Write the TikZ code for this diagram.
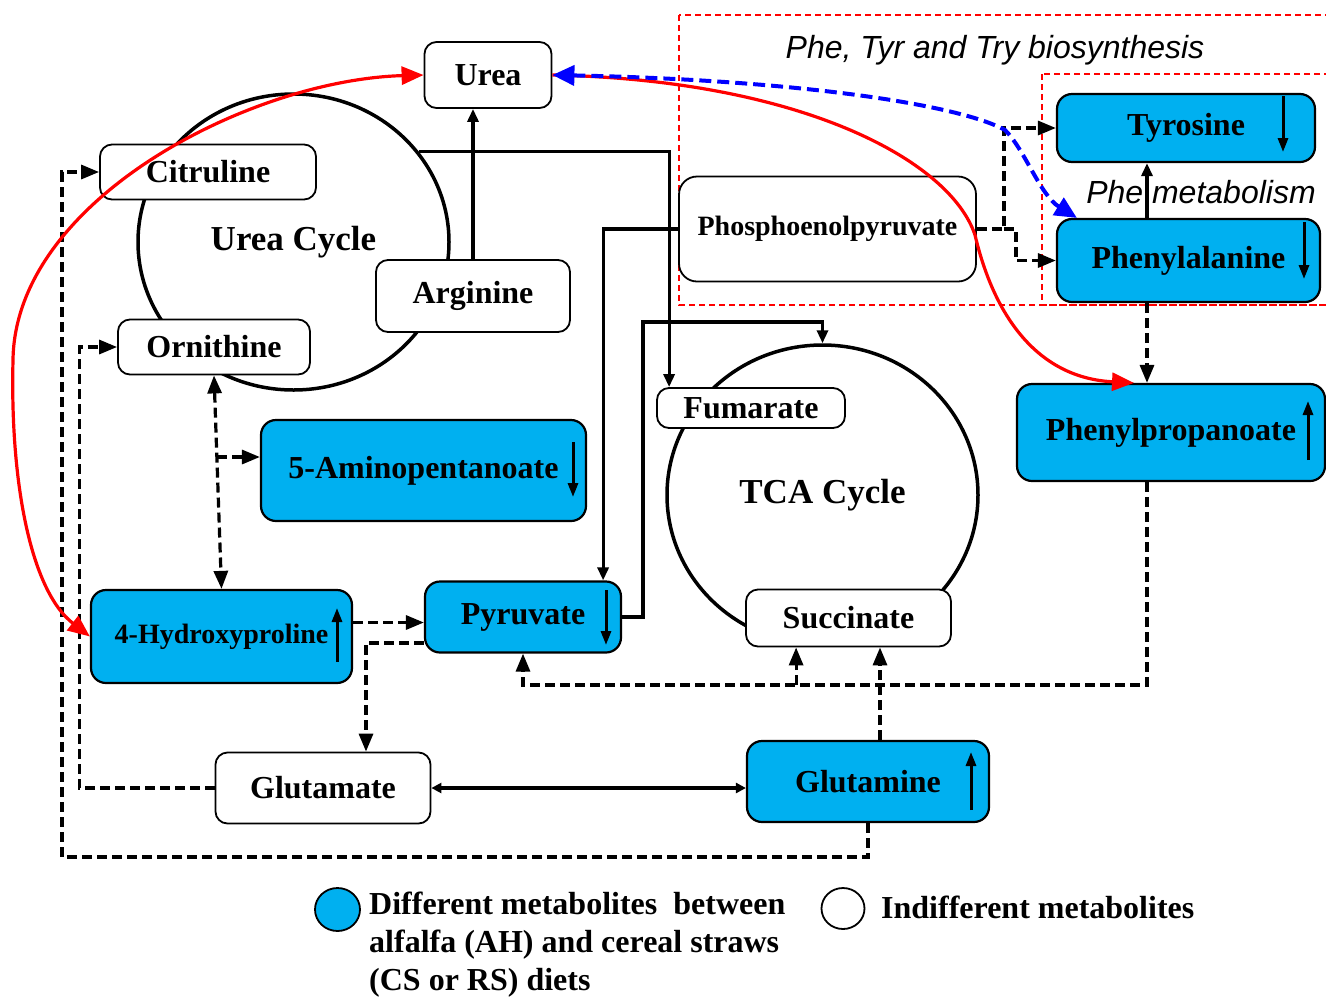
\documentclass[tikz,border=0pt]{standalone}
\usepackage{fontspec}
\setmainfont{Liberation Serif}
\newfontfamily\pathfont{Liberation Sans}
\usetikzlibrary{arrows.meta,shapes.geometric}

\definecolor{diffblue}{RGB}{0,176,240}

\tikzset{
	metab/.style={draw, line width=1.8pt, rounded corners=12pt, fill=white, inner sep=0pt, font=\fontsize{32}{38}\selectfont\bfseries},
	diffmetab/.style={metab, fill=diffblue, line width=2.2pt, rounded corners=15pt},
	cyclering/.style={ellipse, draw, line width=3.5pt, inner sep=0pt, font=\fontsize{35}{42}\selectfont\bfseries},
	pathlabel/.style={font=\pathfont\itshape\fontsize{32}{38}\selectfont},
	link/.style={line width=3.2pt, >={Triangle[length=13pt,width=11pt]}, ->},
	dlink/.style={line width=3.2pt, dash pattern=on 10pt off 5pt, >={Triangle[length=18pt,width=14pt]}, ->},
	trend/.style={line width=3pt, -{Triangle[length=14pt,width=10pt]}},
	pathbox/.style={red, line width=1.5pt, dash pattern=on 6pt off 4pt},
	redcurve/.style={red, line width=3.2pt, >={Triangle[length=22pt,width=18pt]}},
	bluecurve/.style={blue, line width=4pt, dash pattern=on 12pt off 6pt, >={Triangle[length=22pt,width=20pt]}},
}

\begin{document}
\begin{tikzpicture}[x=1pt, y=-1pt]
	\useasboundingbox (0,0) rectangle (1326,997);
	\draw[pathbox] (679,15) rectangle (1340,305);
	\draw[pathbox] (1042,74) rectangle (1340,305);
	\node[pathlabel] (biosyn) at (995,50) {Phe, Tyr and Try biosynthesis};
	\node[pathlabel] (phemet) at (1201,192) {Phe metabolism};

	\node[cyclering, minimum width=311pt, minimum height=296pt] (ucyc) at (293.5,242) {Urea Cycle};
	\node[cyclering, minimum width=311pt, minimum height=300pt] (tca) at (822.5,495) {TCA Cycle};

	\node[metab, minimum width=127pt, minimum height=66pt] (urea) at (488,75) {Urea};
	\node[metab, minimum width=216pt, minimum height=55pt] (cit) at (208,172) {Citruline};
	\node[metab, minimum width=194pt, minimum height=72pt] (arg) at (473,296) {Arginine};
	\node[metab, minimum width=192pt, minimum height=55pt] (orn) at (214,347) {Ornithine};
	\node[diffmetab, minimum width=325pt, minimum height=101pt] (amino) at (423.5,470.5) {5-Aminopentanoate};
	\node[diffmetab, minimum width=261pt, minimum height=93pt, font=\fontsize{28}{34}\selectfont\bfseries] (hyp) at (221.5,636.5) {4-Hydroxyproline};
	\node[diffmetab, minimum width=196pt, minimum height=71pt] (pyr) at (523,617) {Pyruvate};
	\node[metab, minimum width=215pt, minimum height=71pt] (glu) at (323,788) {Glutamate};
	\node[diffmetab, minimum width=242pt, minimum height=81pt] (gln) at (868,781.5) {Glutamine};
	\node[metab, minimum width=188pt, minimum height=40pt] (fum) at (751,408) {Fumarate};
	\node[metab, minimum width=205pt, minimum height=57pt] (succ) at (848.5,618) {Succinate};
	\node[metab, minimum width=297pt, minimum height=105pt, rounded corners=18pt, font=\fontsize{28}{34}\selectfont\bfseries] (pep) at (827.5,229) {Phosphoenolpyruvate};
	\node[diffmetab, minimum width=258pt, minimum height=68pt] (tyr) at (1186,128) {Tyrosine};
	\node[diffmetab, minimum width=263pt, minimum height=83pt] (phe) at (1188.5,260.5) {Phenylalanine};
	\node[diffmetab, minimum width=308pt, minimum height=97pt] (pp) at (1171,432.5) {Phenylpropanoate};

	\draw[trend] (573,442) -- (573,497);
	\draw[trend] (337,662) -- (337,608);
	\draw[trend] (606,590) -- (606,645);
	\draw[trend] (971,810) -- (971,752);
	\draw[trend] (1283,96) -- (1283,152);
	\draw[trend] (1304,222) -- (1304,279);
	\draw[trend] (1308,460) -- (1308,401);

	\draw[link] (arg.north) -- (arg.north |- urea.south);
	\draw[link] (ucyc.36) -| ([xshift=13pt]fum.north west);
	\draw[link] (pep.west) -| ([xshift=-19pt]pyr.north east);
	\coordinate (tcabend) at (643,322);
	\draw[link] (pyr.east) -| (tcabend) -| (tca.north);
	\draw[dlink] (pep.east) -- ++(27,0) coordinate (pepsplit) |- (tyr.west);
	\draw[dlink] (pepsplit) -- ++(12,0) |- (phe.west);

	\coordinate (phecol) at (1147,0);
	\draw[link] (phecol |- phe.north) -- (phecol |- tyr.south);
	\draw[dlink] (phecol |- phe.south) -- (phecol |- pp.north);
	\coordinate (lowrow) at (0,685);
	\draw[dlink] (phecol |- pp.south) -- (phecol |- lowrow) -| (pyr.south);
	\coordinate (succin) at ([xshift=51pt]succ.south west);
	\draw[dlink] (succin |- lowrow) -- (succin);
	\coordinate (glnup) at ([xshift=12pt]gln.north);
	\draw[dlink] (glnup) -- (glnup |- succ.south);

	\coordinate (loopout) at (62,857);
	\draw[dlink] (gln.south) |- (loopout) |- (cit.west);
	\draw[dlink] (glu.west) -| ([xshift=-38pt]orn.west) -- (orn.west);
	\draw[dlink, <->] (orn.south) -- (hyp.north);
	\coordinate (ornbranch) at (217,457);
	\draw[dlink] (ornbranch) -- (ornbranch -| amino.west);
	\coordinate (hypout) at ([yshift=14pt]hyp.east);
	\draw[dlink] (hypout) -- (hypout -| pyr.west);
	\coordinate (pyrout) at ([yshift=-26pt]pyr.west);
	\draw[dlink] (pyrout) -| ([xshift=43pt]glu.north);
	\draw[line width=3.2pt, >={Triangle[length=10pt,width=10pt]}, <->] (glu.east) -- (glu.east -| gln.west);

	\draw[redcurve, <->] (urea.west) .. controls (250,80) and (15,200) .. (13,360) .. controls (10,480) and (30,590) .. (hyp.west);
	\draw[redcurve, ->] (urea.east) .. controls (800,80) and (950,160) .. (975,235) .. controls (995,320) and (1040,378) .. ([xshift=-37pt]pp.north);
	\draw[bluecurve, <->] (urea.east) .. controls (800,80) and (960,105) .. (1005,130) .. controls (1025,150) and (1040,195) .. ([xshift=21pt]phe.north west);

	\node[ellipse, draw, line width=1.8pt, fill=diffblue, minimum width=45pt, minimum height=43pt, inner sep=0pt] (keydiff) at (337.5,909.5) {};
	\node[anchor=north west, align=left, inner sep=0pt, font=\fontsize{32}{38}\selectfont\bfseries] (keydifftext) at (369,892) {Different metabolites\ \ between\\alfalfa (AH) and cereal straws\\(CS or RS) diets};
	\node[ellipse, draw, line width=1.8pt, fill=white, minimum width=43pt, minimum height=41pt, inner sep=0pt] (keysame) at (843,908.5) {};
	\node[anchor=base west, inner sep=0pt, font=\fontsize{32}{38}\selectfont\bfseries] (keysametext) at (881,918) {Indifferent metabolites};
\end{tikzpicture}
\end{document}
